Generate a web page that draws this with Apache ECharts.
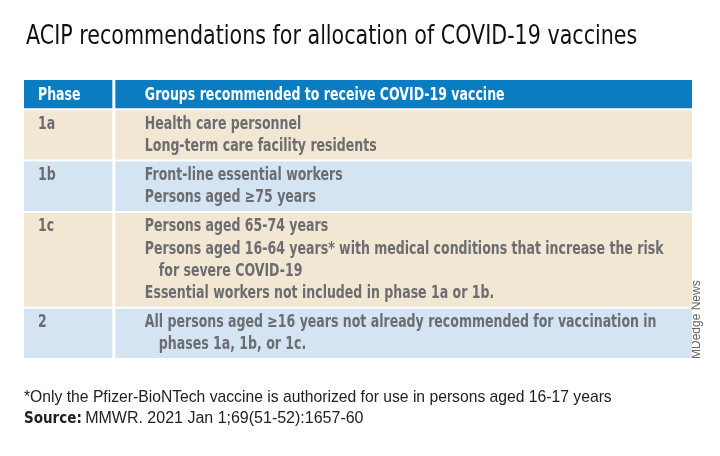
<!DOCTYPE html>
<html>
<head>
<meta charset="utf-8">
<script src="https://cdn.jsdelivr.net/npm/echarts@6/dist/echarts.min.js"></script>
<style>
  html, body { margin: 0; padding: 0; background: #fff; }
  #chart { width: 720px; height: 456px; }
</style>
</head>
<body>
<div id="chart"></div>
<script>
// table content
const headers = ['Phase', 'Groups recommended to receive COVID-19 vaccine']
const phases = ['1a', '1b', '1c', '2']
const groups = [
  ['Health care personnel', 'Long-term care facility residents'],
  ['Front-line essential workers', 'Persons aged \u226575 years'],
  ['Persons aged 65-74 years',
    'Persons aged 16-64 years* with medical conditions that increase the risk',
    '>for severe COVID-19',
    'Essential workers not included in phase 1a or 1b.'],
  ['All persons aged \u226516 years not already recommended for vaccination in',
    '>phases 1a, 1b, or 1c.']
]
const rowColors = ['#f2e7d2', '#d4e4f3', '#f2e7d2', '#d4e4f3']

const FONT = '"DejaVu Sans Condensed", sans-serif'
const CELL_FONT = 'bold 17px ' + FONT
const CELL_SX = 0.82
const LINE = 22 // px per text line, used only to set unit sizes below
const HEADER_H = 28 / LINE
const PAD = 7 / LINE
const PAD_TOP = 5 / LINE
const SPLIT = 0.1345

// row extents in "line" units
const rows = []
let pos = HEADER_H
phases.forEach(function (p, i) {
  const n = groups[i].length
  rows.push([i, pos, pos + n + PAD])
  pos += n + PAD
})
const total = pos

const myChart = echarts.init(document.getElementById('chart'))

function cellText (x, y, text, color) {
  return { type: 'text', x: x, y: y, scaleX: CELL_SX, style: { x: 0, y: 0, text: text, fill: color, font: CELL_FONT, verticalAlign: 'middle' } }
}

function renderRow (params, api) {
  const idx = api.value(0)
  const y0 = api.value(1)
  const y1 = api.value(2)
  const tl = api.coord([0, y0])
  const mid = api.coord([SPLIT, y0])
  const br = api.coord([1, y1])
  const top = tl[1] + 2
  const bot = br[1]
  const children = [
    { type: 'rect', shape: { x: tl[0], y: top, width: mid[0] - 1.5 - tl[0], height: bot - top }, style: { fill: rowColors[idx] } },
    { type: 'rect', shape: { x: mid[0] + 1.5, y: top, width: br[0] - mid[0] - 1.5, height: bot - top }, style: { fill: rowColors[idx] } }
  ]
  const firstY = api.coord([0, y0 + PAD_TOP + 0.5])[1]
  children.push(cellText(tl[0] + 14, firstY, phases[idx], '#6b6d71'))
  groups[idx].forEach(function (line, j) {
    const cont = line.charAt(0) === '>'
    const ly = api.coord([0, y0 + PAD_TOP + j + 0.5])[1]
    children.push(cellText(mid[0] + 31 + (cont ? 14 : 0), ly, cont ? line.slice(1) : line, '#6b6d71'))
  })
  return { type: 'group', children: children }
}

function renderHeader (params, api) {
  const tl = api.coord([0, 0])
  const mid = api.coord([SPLIT, 0])
  const br = api.coord([1, HEADER_H])
  const cy = (tl[1] + br[1]) / 2 + 1
  return {
    type: 'group',
    children: [
      { type: 'rect', shape: { x: tl[0], y: tl[1], width: mid[0] - 1.5 - tl[0], height: br[1] - tl[1] }, style: { fill: '#0a7cc2' } },
      { type: 'rect', shape: { x: mid[0] + 1.5, y: tl[1], width: br[0] - mid[0] - 1.5, height: br[1] - tl[1] }, style: { fill: '#0a7cc2' } },
      cellText(tl[0] + 14, cy, headers[0], '#fff'),
      cellText(mid[0] + 31, cy, headers[1], '#fff')
    ]
  }
}

const option = {
  animation: false,
  grid: { left: 24, right: 28, top: 80, bottom: 98 },
  xAxis: { type: 'value', min: 0, max: 1, show: false },
  yAxis: { type: 'value', min: 0, max: total, inverse: true, show: false },
  graphic: [
    {
      type: 'text',
      x: 26,
      y: 37,
      scaleX: 0.85,
      style: { x: 0, y: 0, text: 'ACIP recommendations for allocation of COVID-19 vaccines', fill: '#111', font: '27px ' + FONT, verticalAlign: 'middle' }
    },
    {
      type: 'text',
      x: 24,
      y: 398,
      style: { x: 0, y: 0, text: '*Only the Pfizer-BioNTech vaccine is authorized for use in persons aged 16-17 years', fill: '#222', font: '15.7px "Liberation Sans", Arial, sans-serif', verticalAlign: 'middle' }
    },
    {
      type: 'text',
      x: 24,
      y: 419,
      style: {
        x: 0,
        y: 0,
        text: '{b|Source:} {r|MMWR. 2021 Jan 1;69(51-52):1657-60}',
        verticalAlign: 'middle',
        rich: {
          b: { fontFamily: FONT, fontSize: 15, fontWeight: 'bold', fill: '#222' },
          r: { fontFamily: '"Liberation Sans", Arial, sans-serif', fontSize: 16, fill: '#222' }
        }
      }
    },
    {
      type: 'text',
      x: 691,
      y: 359,
      rotation: Math.PI / 2,
      style: { x: 0, y: 0, text: 'MDedge News', fill: '#666', font: '12px "Liberation Sans", Arial, sans-serif', verticalAlign: 'top' }
    }
  ],
  series: [
    { type: 'custom', renderItem: renderHeader, data: [[0]], silent: true, clip: false },
    { type: 'custom', renderItem: renderRow, data: rows, silent: true, clip: false }
  ]
}
myChart.setOption(option)
</script>
</body>
</html>
